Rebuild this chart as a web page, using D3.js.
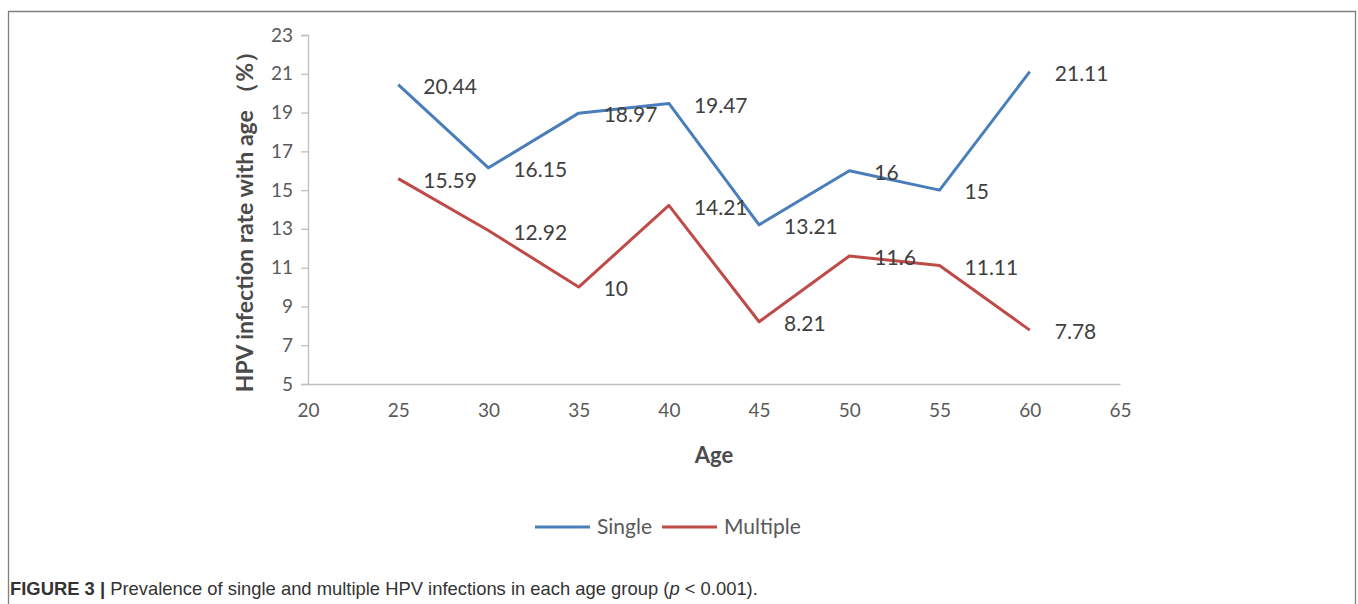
<!DOCTYPE html>
<html>
<head>
<meta charset="utf-8">
<script src="https://cdn.jsdelivr.net/npm/d3@7"></script>
<style>
  body { margin: 0; background: #fff; }
  svg { display: block; }
</style>
</head>
<body>
<div id="chart"></div>
<script>
// chart values
var ages = [25, 30, 35, 40, 45, 50, 55, 60];
var single = [20.44, 16.15, 18.97, 19.47, 13.21, 16, 15, 21.11];
var multiple = [15.59, 12.92, 10, 14.21, 8.21, 11.6, 11.11, 7.78];
var seriesNames = ["Single", "Multiple"];
var xTicks = [20, 25, 30, 35, 40, 45, 50, 55, 60, 65];
var yTicks = [5, 7, 9, 11, 13, 15, 17, 19, 21, 23];

var W = 1358, H = 604;
var colors = { Single: "#4a7ebb", Multiple: "#be4b48" };
var textColor = "#595959";
var font = "Lato, 'Open Sans', sans-serif";

var svg = d3.select("#chart").append("svg")
    .attr("width", W)
    .attr("height", H);

// frame around the figure
svg.append("path")
    .attr("d", "M8.5," + (H + 5) + " L8.5,11.5 L1355.5,11.5 L1355.5," + (H + 5))
    .style("fill", "none")
    .style("stroke", "#7f7f7f")
    .style("stroke-width", 1.3);

var x = d3.scaleLinear().domain([20, 65]).range([308, 1120]);
var y = d3.scaleLinear().domain([5, 23]).range([384, 35]);

// y axis
var yAxis = svg.append("g")
    .attr("transform", "translate(308,0)")
    .call(d3.axisLeft(y).tickValues(yTicks).tickSize(7).tickPadding(8));
yAxis.select(".domain").attr("stroke", "#bfbfbf").attr("stroke-width", 1.3);
yAxis.selectAll(".tick line").attr("stroke", "#bfbfbf").attr("stroke-width", 1.3);
yAxis.selectAll(".tick text")
    .attr("fill", textColor)
    .style("font-family", font)
    .style("font-size", "19px");

// x axis
var xAxis = svg.append("g")
    .attr("transform", "translate(0,384)")
    .call(d3.axisBottom(x).tickValues(xTicks).tickSize(0).tickPadding(20));
xAxis.select(".domain").attr("stroke", "#bfbfbf").attr("stroke-width", 1.3);
xAxis.selectAll(".tick text")
    .attr("fill", textColor)
    .style("font-family", font)
    .style("font-size", "19px");

// axis titles
svg.append("text")
    .attr("x", 714)
    .attr("y", 463)
    .attr("text-anchor", "middle")
    .attr("fill", "#4a4a4a")
    .style("font-family", font)
    .style("font-weight", "bold")
    .style("font-size", "22px")
    .text("Age");

svg.append("text")
    .attr("transform", "translate(253,216) rotate(-90)")
    .attr("text-anchor", "middle")
    .attr("fill", "#4a4a4a")
    .style("font-family", font)
    .style("font-weight", "bold")
    .style("font-size", "23px")
    .text("HPV infection rate with age （%）");

var line = d3.line()
    .x(function(d) { return x(d.age); })
    .y(function(d) { return y(d.v); });

var data = [
  { name: "Single", values: ages.map(function(a, i) { return { age: a, v: single[i] }; }) },
  { name: "Multiple", values: ages.map(function(a, i) { return { age: a, v: multiple[i] }; }) }
];

svg.selectAll("path.series")
    .data(data)
    .enter()
    .append("path")
    .attr("class", "series")
    .attr("d", function(d) { return line(d.values); })
    .style("fill", "none")
    .style("stroke", function(d) { return colors[d.name]; })
    .style("stroke-width", 3)
    .style("stroke-linejoin", "round");

// value labels, to the right of each point
data.forEach(function(s) {
  svg.selectAll("text.lbl-" + s.name)
      .data(s.values)
      .enter()
      .append("text")
      .attr("x", function(d) { return x(d.age) + 25; })
      .attr("y", function(d) { return y(d.v) + 2; })
      .attr("dy", "0.35em")
      .attr("fill", "#404040")
      .style("font-family", font)
      .style("font-size", "21px")
      .text(function(d) { return d.v; });
});

// legend
var legend = svg.append("g");
var lx = [535, 662];
seriesNames.forEach(function(n, i) {
  legend.append("line")
      .attr("x1", lx[i]).attr("x2", lx[i] + 55)
      .attr("y1", 527).attr("y2", 527)
      .style("stroke", colors[n])
      .style("stroke-width", 3);
  legend.append("text")
      .attr("x", lx[i] + 62)
      .attr("y", 527)
      .attr("dy", "0.35em")
      .attr("fill", textColor)
      .style("font-family", font)
      .style("font-size", "21px")
      .text(n);
});

// caption
var cap = svg.append("text")
    .attr("x", 10)
    .attr("y", 595)
    .attr("fill", "#333")
    .style("font-family", "'Liberation Sans', Arial, sans-serif")
    .style("font-size", "18.4px");
cap.append("tspan").style("font-weight", "bold").text("FIGURE 3 | ");
cap.append("tspan").text("Prevalence of single and multiple HPV infections in each age group (");
cap.append("tspan").style("font-style", "italic").text("p");
cap.append("tspan").text(" < 0.001).");
</script>
</body>
</html>
